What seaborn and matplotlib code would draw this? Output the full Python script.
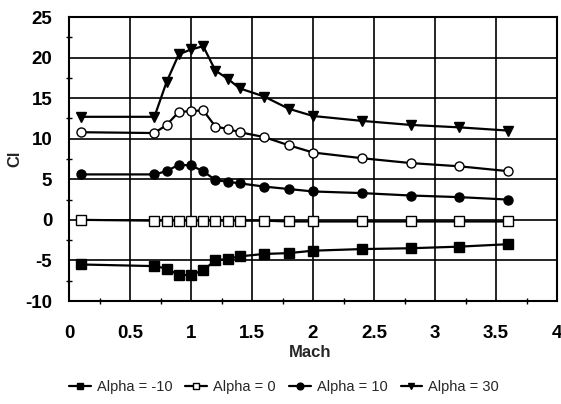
import matplotlib
matplotlib.use("Agg")
import matplotlib.pyplot as plt
from matplotlib.ticker import MultipleLocator, FormatStrFormatter
import seaborn as sns
import pandas as pd

mach = [0.1, 0.7, 0.8, 0.9, 1.0, 1.1, 1.2, 1.3, 1.4, 1.6, 1.8, 2.0, 2.4, 2.8, 3.2, 3.6]

cl_alpha_m10 = [-5.5, -5.7, -6.0, -6.8, -6.8, -6.2, -5.0, -4.8, -4.5, -4.2, -4.1, -3.8, -3.6, -3.5, -3.3, -3.0]
cl_alpha_0 = [0.0, -0.1, -0.1, -0.1, -0.1, -0.1, -0.1, -0.1, -0.1, -0.1, -0.2, -0.2, -0.2, -0.2, -0.2, -0.2]
cl_alpha_10 = [5.6, 5.6, 6.0, 6.8, 6.7, 6.0, 4.9, 4.7, 4.5, 4.1, 3.8, 3.5, 3.3, 3.0, 2.8, 2.5]
cl_alpha_20 = [10.8, 10.7, 11.7, 13.3, 13.4, 13.5, 11.5, 11.2, 10.8, 10.2, 9.2, 8.3, 7.6, 7.0, 6.6, 6.0]
cl_alpha_30 = [12.7, 12.7, 17.0, 20.4, 21.0, 21.4, 18.4, 17.4, 16.2, 15.2, 13.7, 12.8, 12.2, 11.7, 11.4, 11.0]

series = [
    ("Alpha = -10", cl_alpha_m10, "s", "black", True),
    ("Alpha = 0", cl_alpha_0, "s", "white", True),
    ("Alpha = 10", cl_alpha_10, "o", "black", True),
    ("Alpha = 20", cl_alpha_20, "o", "white", False),
    ("Alpha = 30", cl_alpha_30, "v", "black", True),
]

sns.set_theme(style="white")
plt.rcParams["font.family"] = ["Liberation Sans", "DejaVu Sans"]
plt.rcParams["axes.unicode_minus"] = False

fig = plt.figure(figsize=(5.61, 4.04), dpi=100)
ax = fig.add_axes([69 / 561, 1 - 301 / 404, (557 - 69) / 561, (301 - 17) / 404])

for label, vals, marker, face, in_legend in series:
    df = pd.DataFrame({"Mach": mach, "Cl": vals})
    sns.lineplot(data=df, x="Mach", y="Cl", ax=ax, color="black", linewidth=1.6,
                 marker=marker, markersize=6.5, markerfacecolor=face,
                 markeredgecolor="black", markeredgewidth=1.0,
                 label=label if in_legend else None, zorder=3)

ax.set_xlim(0, 4)
ax.set_ylim(-10, 25)
ax.xaxis.set_major_locator(MultipleLocator(0.5))
ax.xaxis.set_minor_locator(MultipleLocator(0.25))
ax.xaxis.set_major_formatter(FormatStrFormatter("%g"))
ax.yaxis.set_major_locator(MultipleLocator(5))
ax.yaxis.set_minor_locator(MultipleLocator(2.5))
ax.yaxis.set_major_formatter(FormatStrFormatter("%g"))
ax.grid(True, which="major", color="black", linewidth=1.2)
ax.tick_params(which="major", direction="inout", length=6, width=1.3, colors="black",
               labelsize=13.5)
ax.tick_params(axis="x", which="major", pad=14)
ax.tick_params(axis="y", which="major", pad=9)
ax.tick_params(which="minor", direction="inout", length=4, width=1.0, colors="black",
               bottom=True, left=True)
for lab in ax.get_xticklabels() + ax.get_yticklabels():
    lab.set_fontweight("bold")
for sp in ax.spines.values():
    sp.set_color("black")
    sp.set_linewidth(1.5)

ax.set_xlabel("Mach", fontsize=12, fontweight="bold")
ax.xaxis.set_label_coords((310 - 69) / 488, (301 - 345) / 284)
ax.set_ylabel("Cl", fontsize=12, fontweight="bold")
ax.yaxis.set_label_coords((22 - 69) / 488, 0.5)

h, l = ax.get_legend_handles_labels()
leg = ax.legend(h, l, loc="center", bbox_to_anchor=((284 - 69) / 488, (301 - 387) / 284),
                ncol=4, frameon=False, handlelength=1.5, handletextpad=0.4,
                columnspacing=0.9, markerscale=0.75,
                prop={"size": 10.5})

fig.savefig("out.png", dpi=100)
